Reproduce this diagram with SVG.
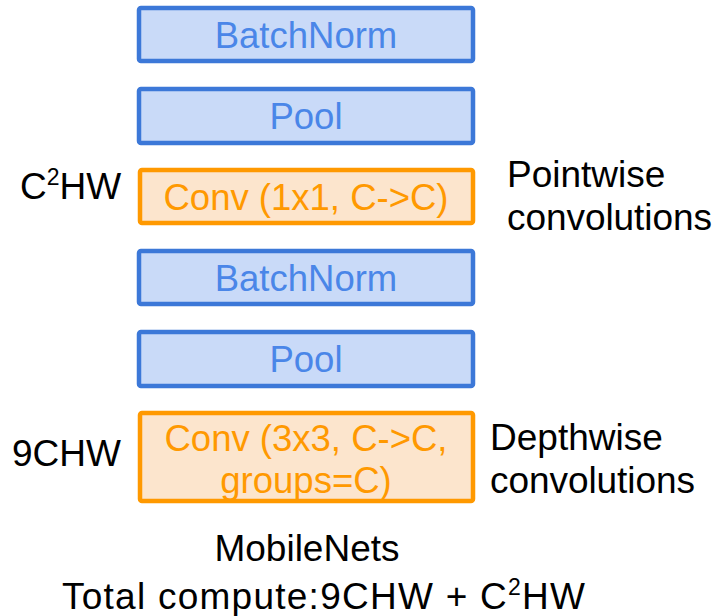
<svg xmlns="http://www.w3.org/2000/svg" width="722" height="616" viewBox="0 0 722 616">
<style>
.blue rect{fill:#c9daf8;stroke:#3c78d8;stroke-width:4.5}
.orange rect{fill:#fce5cd;stroke:#ff9900;stroke-width:4.5}
text{font-family:"Liberation Sans",Arial,sans-serif}
.blue text{fill:#4a86e8;font-size:36.5px;text-anchor:middle}
.orange text{fill:#ff9900;font-size:36.5px;text-anchor:middle}
.lbl{fill:#000;font-size:37px}
</style>
<rect width="722" height="616" fill="#fff"/>
<g id="bn1" class="blue"><rect x="139" y="8" width="334" height="53" rx="2"/><text x="306" y="48">BatchNorm</text></g>
<g id="pool1" class="blue"><rect x="139" y="89" width="334" height="54" rx="2"/><text x="306" y="129">Pool</text></g>
<g id="conv1" class="orange"><rect x="140" y="170" width="333" height="53" rx="2"/><text x="306" y="210">Conv (1x1, C-&gt;C)</text></g>
<g id="bn2" class="blue"><rect x="139" y="251" width="334" height="53" rx="2"/><text x="306" y="291">BatchNorm</text></g>
<g id="pool2" class="blue"><rect x="139" y="332" width="334" height="54" rx="2"/><text x="306" y="372">Pool</text></g>
<g id="conv2" class="orange"><rect x="140" y="413" width="333" height="88" rx="2"/><text x="306" y="451">Conv (3x3, C-&gt;C,</text><text x="306" y="493">groups=C)</text></g>
<g id="connectors"></g>
<text class="lbl" x="20" y="199">C<tspan font-size="23" dy="-14">2</tspan><tspan dy="14">HW</tspan></text>
<text class="lbl" x="12" y="466">9CHW</text>
<text class="lbl" x="507" y="187">Pointwise</text>
<text class="lbl" x="507" y="230" textLength="205">convolutions</text>
<text class="lbl" x="490" y="450">Depthwise</text>
<text class="lbl" x="490" y="493" textLength="205">convolutions</text>
<text class="lbl" x="307" y="561" text-anchor="middle">MobileNets</text>
<text class="lbl" x="62" y="609" textLength="523">Total compute:9CHW + C<tspan font-size="23" dy="-14">2</tspan><tspan dy="14">HW</tspan></text>
</svg>
